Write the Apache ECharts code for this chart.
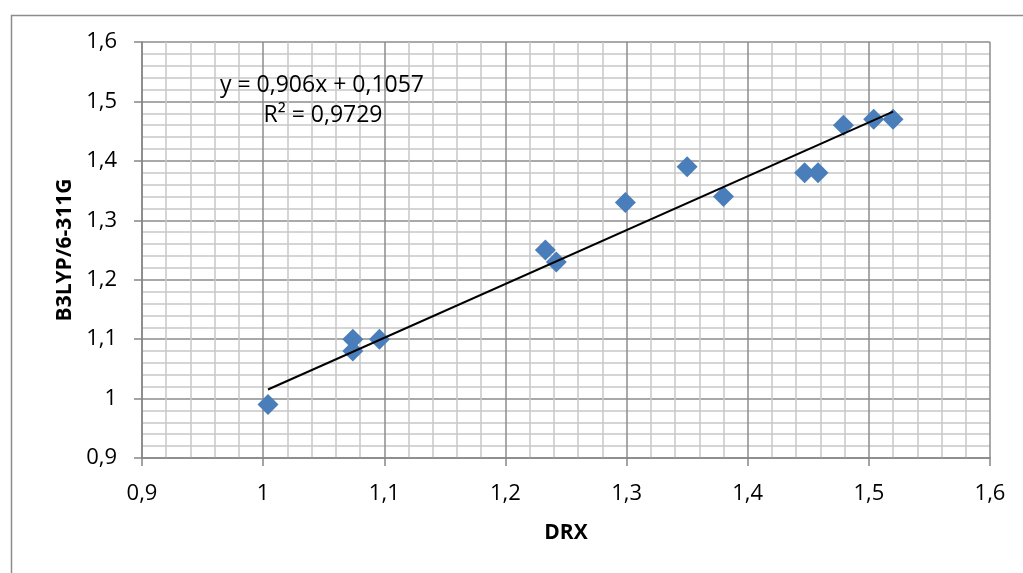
<!DOCTYPE html>
<html>
<head>
<meta charset="utf-8">
<script src="https://cdn.jsdelivr.net/npm/echarts@6/dist/echarts.min.js"></script>
<style>
html,body{margin:0;padding:0;background:#fff;}
#c{width:1023px;height:573px;}
</style>
</head>
<body>
<div id="c"></div>
<script>
// Data
const drx = [1.004, 1.074, 1.074, 1.096, 1.233, 1.242, 1.299, 1.350, 1.380, 1.447, 1.458, 1.479, 1.504, 1.520];
const b3lyp = [0.99, 1.08, 1.10, 1.10, 1.25, 1.23, 1.33, 1.39, 1.34, 1.38, 1.38, 1.46, 1.47, 1.47];
const trendSlope = 0.906;
const trendIntercept = 0.1057;
const equationText = 'y = 0,906x + 0,1057';
const r2Text = 'R² = 0,9729';
const xTitle = 'DRX';
const yTitle = 'B3LYP/6-311G';

const points = drx.map((x, i) => [x, b3lyp[i]]);
const xMin = Math.min(...drx), xMax = Math.max(...drx);
const trend = [[xMin, trendSlope * xMin + trendIntercept], [xMax, trendSlope * xMax + trendIntercept]];

const FONT = '"Open Sans", sans-serif';
const fmt = v => String(Number(v.toFixed(1))).replace('.', ',');

const axisCommon = {
  type: 'value', min: 0.9, max: 1.6, interval: 0.1,
  axisLine: { show: true, lineStyle: { color: '#868686', width: 1.5 } },
  axisTick: { show: true, length: 8, lineStyle: { color: '#868686', width: 1.5 } },
  minorTick: { show: false, splitNumber: 5 },
  splitLine: { show: true, lineStyle: { color: '#8c8c8c', width: 1.5 } },
  minorSplitLine: { show: true, lineStyle: { color: '#c8c8c8', width: 1.5 } },
  axisLabel: { color: '#000', fontFamily: FONT, fontSize: 22, margin: 25, formatter: fmt },
  nameLocation: 'middle',
  nameTextStyle: { color: '#000', fontFamily: FONT, fontSize: 21, fontWeight: 'bold' }
};

const chart = echarts.init(document.getElementById('c'), null, { renderer: 'canvas' });
chart.setOption({
  animation: false,
  backgroundColor: '#fff',
  grid: { left: 142, top: 42, right: 33, bottom: 115, containLabel: false },
  xAxis: Object.assign({}, axisCommon, { name: xTitle, nameGap: 65 }),
  yAxis: Object.assign({}, axisCommon, { name: yTitle, nameGap: 46 }),
  graphic: [
    { type: 'rect', left: 9, top: 13, shape: { width: 1100, height: 700 }, style: { fill: 'none', stroke: '#8c8c8c', lineWidth: 1.5 }, z: -10, silent: true },
    { type: 'text', x: 322, y: 85, style: { text: equationText, fontFamily: FONT, fontSize: 23, fill: '#000', align: 'center', verticalAlign: 'middle' }, z: 100 },
    { type: 'text', x: 323, y: 115, style: { text: r2Text, fontFamily: FONT, fontSize: 23, fill: '#000', align: 'center', verticalAlign: 'middle' }, z: 100 }
  ],
  series: [
    {
      type: 'line', data: trend, symbol: 'none', z: 3,
      lineStyle: { color: '#000', width: 2 }
    },
    {
      type: 'scatter', data: points, symbol: 'diamond', symbolSize: 21, z: 2,
      itemStyle: { color: '#4A7EBB', opacity: 1 }
    }
  ]
});
</script>
</body>
</html>
